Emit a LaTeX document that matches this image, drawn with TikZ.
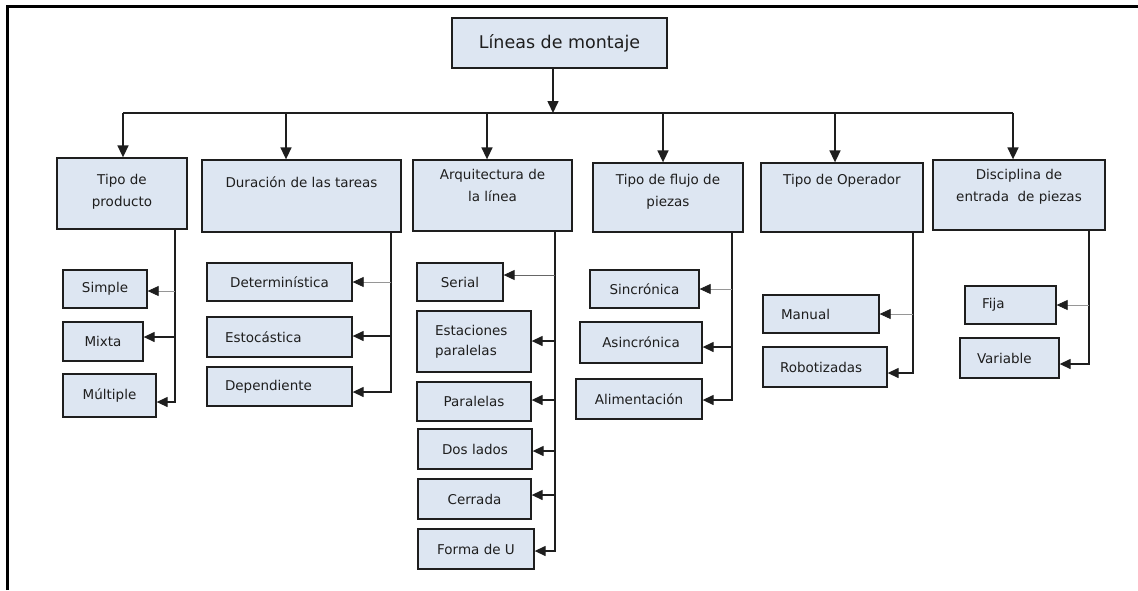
\documentclass[tikz,border=0pt]{standalone}
\usepackage{fontspec}
\setmainfont{DejaVu Sans}
\usetikzlibrary{arrows.meta}
\definecolor{boxfill}{RGB}{221,230,242}
\definecolor{ink}{RGB}{30,30,30}
\definecolor{thinline}{RGB}{150,150,150}
\begin{document}
\begin{tikzpicture}[x=1pt,y=-1pt,
  every node/.style={inner sep=0pt, text=ink},
  box/.style={draw=ink, line width=1.3pt, fill=boxfill, rectangle},
  lvltext/.style={font=\fontsize{13.5}{22}\selectfont, align=center, anchor=north},
  leaf/.style={box, font=\fontsize{13.5}{20}\selectfont, align=center},
  trunk/.style={draw=ink, line width=1.3pt},
  branch/.style={draw=ink, line width=1.3pt, -{Triangle[width=10pt,length=11pt]}},
  faint/.style={draw=thinline, line width=0.8pt, -{Triangle[width=10pt,length=11pt,color=ink]}},
  down/.style={draw=ink, line width=1.6pt, -{Triangle[width=11pt,length=12pt]}},
]
\useasboundingbox (0,0) rectangle (1138,590);
% frame
\draw[line width=3.5pt, black] (7.5,590) -- (7.5,6.7) -- (1138,6.7);

% root
\node[box, minimum width=215pt, minimum height=50pt, font=\fontsize{17.5}{20}\selectfont] (root) at (559.5,43) {Líneas de montaje};

% level 1 boxes
\node[box, minimum width=130pt, minimum height=71pt] (p1) at (122,193.5) {};
\node[box, minimum width=199pt, minimum height=72pt] (p2) at (301.5,196) {};
\node[box, minimum width=159pt, minimum height=71pt] (p3) at (492.5,195.5) {};
\node[box, minimum width=150pt, minimum height=69pt] (p4) at (668,197.5) {};
\node[box, minimum width=162pt, minimum height=69pt] (p5) at (842,197.5) {};
\node[box, minimum width=172pt, minimum height=70pt] (p6) at (1019,195) {};
\node[lvltext] (p1t) at (122,174) {Tipo de\\producto};
\node[lvltext] (p2t) at (301.5,176) {Duración de las tareas};
\node[lvltext] (p3t) at (492.5,169) {Arquitectura de\\la línea};
\node[lvltext] (p4t) at (668,174) {Tipo de flujo de\\piezas};
\node[lvltext] (p5t) at (842,174) {Tipo de Operador};
\node[lvltext] (p6t) at (1019,169) {Disciplina de\\entrada\ \ de piezas};

% level 2 boxes
\node[leaf, minimum width=84pt, minimum height=38pt] (simple) at (105,289) {Simple};
\node[leaf, minimum width=80pt, minimum height=39pt] (mixta) at (103,341.5) {Mixta};
\node[leaf, minimum width=93pt, minimum height=43pt] (multiple) at (109.5,395.5) {Múltiple};

\node[leaf, minimum width=145pt, minimum height=38pt] (determ) at (279.5,282) {Determinística};
\node[leaf, minimum height=40pt, text width=109pt, inner xsep=18pt, align=left] (estoc) at (279.5,337) {Estocástica};
\node[leaf, minimum height=39pt, text width=109pt, inner xsep=18pt, align=left] (depend) at (279.5,386.5) {Dependiente};

\node[leaf, minimum width=86pt, minimum height=38pt] (serial) at (460,282) {Serial};
\node[leaf, minimum height=61pt, text width=78pt, inner xsep=18pt, align=left] (estac) at (474,341.5) {Estaciones\\paralelas};
\node[leaf, minimum width=114pt, minimum height=39pt] (paral) at (474,401.5) {Paralelas};
\node[leaf, minimum width=114pt, minimum height=40pt] (dos) at (475,449) {Dos lados};
\node[leaf, minimum width=113pt, minimum height=40pt] (cerrada) at (474.5,499) {Cerrada};
\node[leaf, minimum width=116pt, minimum height=40pt] (formau) at (476,549) {Forma de U};

\node[leaf, minimum width=109pt, minimum height=38pt] (sincr) at (644.5,289) {Sincrónica};
\node[leaf, minimum width=122pt, minimum height=41pt] (asincr) at (641,342.5) {Asincrónica};
\node[leaf, minimum width=126pt, minimum height=40pt] (aliment) at (639,399) {Alimentación};

\node[leaf, minimum height=38pt, text width=80pt, inner xsep=18pt, align=left] (manual) at (821,314) {Manual};
\node[leaf, minimum height=40pt, text width=90pt, inner xsep=17pt, align=left] (robot) at (825,367) {Robotizadas};

\node[leaf, minimum height=38pt, text width=57pt, inner xsep=17pt, align=left] (fija) at (1010.5,305) {Fija};
\node[leaf, minimum height=40pt, text width=65pt, inner xsep=17pt, align=left] (variable) at (1009.5,358) {Variable};

% bus
\coordinate (hub) at (553,113);
\coordinate (b1) at (123,113);
\coordinate (b2) at (286,113);
\coordinate (b3) at (487,113);
\coordinate (b4) at (663,113);
\coordinate (b5) at (835,113);
\coordinate (b6) at (1013,113);
\draw[trunk, line width=1.5pt] (b1) -- (b6);
\draw[down] (root.south -| hub) -- (hub);
\draw[down] (b1) -- (p1.north -| b1);
\draw[down] (b2) -- (p2.north -| b2);
\draw[down] (b3) -- (p3.north -| b3);
\draw[down] (b4) -- (p4.north -| b4);
\draw[down] (b5) -- (p5.north -| b5);
\draw[down] (b6) -- (p6.north -| b6);

% group 1
\coordinate (e1) at (175,402);
\coordinate (t1a) at (175,291);
\coordinate (t1b) at (175,337);
\draw[branch] (p1.south -| e1) -- (e1) -- (multiple.east |- e1);
\draw[faint] (t1a) -- (simple.east |- t1a);
\draw[branch] (t1b) -- (mixta.east |- t1b);

% group 2
\coordinate (e2) at (391,392);
\coordinate (t2a) at (391,282);
\coordinate (t2b) at (391,336);
\draw[branch] (p2.south -| e2) -- (e2) -- (depend.east |- e2);
\draw[faint] (t2a) -- (determ.east |- t2a);
\draw[branch] (t2b) -- (estoc.east |- t2b);

% group 3
\coordinate (e3) at (555,551);
\coordinate (t3a) at (555,275);
\coordinate (t3b) at (555,341);
\coordinate (t3c) at (555,400);
\coordinate (t3d) at (555,451);
\coordinate (t3e) at (555,495);
\draw[branch] (p3.south -| e3) -- (e3) -- (formau.east |- e3);
\draw[faint, draw=black!60, line width=1pt] (t3a) -- (serial.east |- t3a);
\draw[branch] (t3b) -- (estac.east |- t3b);
\draw[branch] (t3c) -- (paral.east |- t3c);
\draw[branch] (t3d) -- (dos.east |- t3d);
\draw[branch] (t3e) -- (cerrada.east |- t3e);

% group 4
\coordinate (e4) at (732,400);
\coordinate (t4a) at (732,289);
\coordinate (t4b) at (732,347);
\draw[branch] (p4.south -| e4) -- (e4) -- (aliment.east |- e4);
\draw[faint] (t4a) -- (sincr.east |- t4a);
\draw[branch] (t4b) -- (asincr.east |- t4b);

% group 5
\coordinate (e5) at (913,373);
\coordinate (t5a) at (913,314);
\draw[branch] (p5.south -| e5) -- (e5) -- (robot.east |- e5);
\draw[faint] (t5a) -- (manual.east |- t5a);

% group 6
\coordinate (e6) at (1089,364);
\coordinate (t6a) at (1089,305);
\draw[branch] (p6.south -| e6) -- (e6) -- (variable.east |- e6);
\draw[faint] (t6a) -- (fija.east |- t6a);
\end{tikzpicture}
\end{document}
